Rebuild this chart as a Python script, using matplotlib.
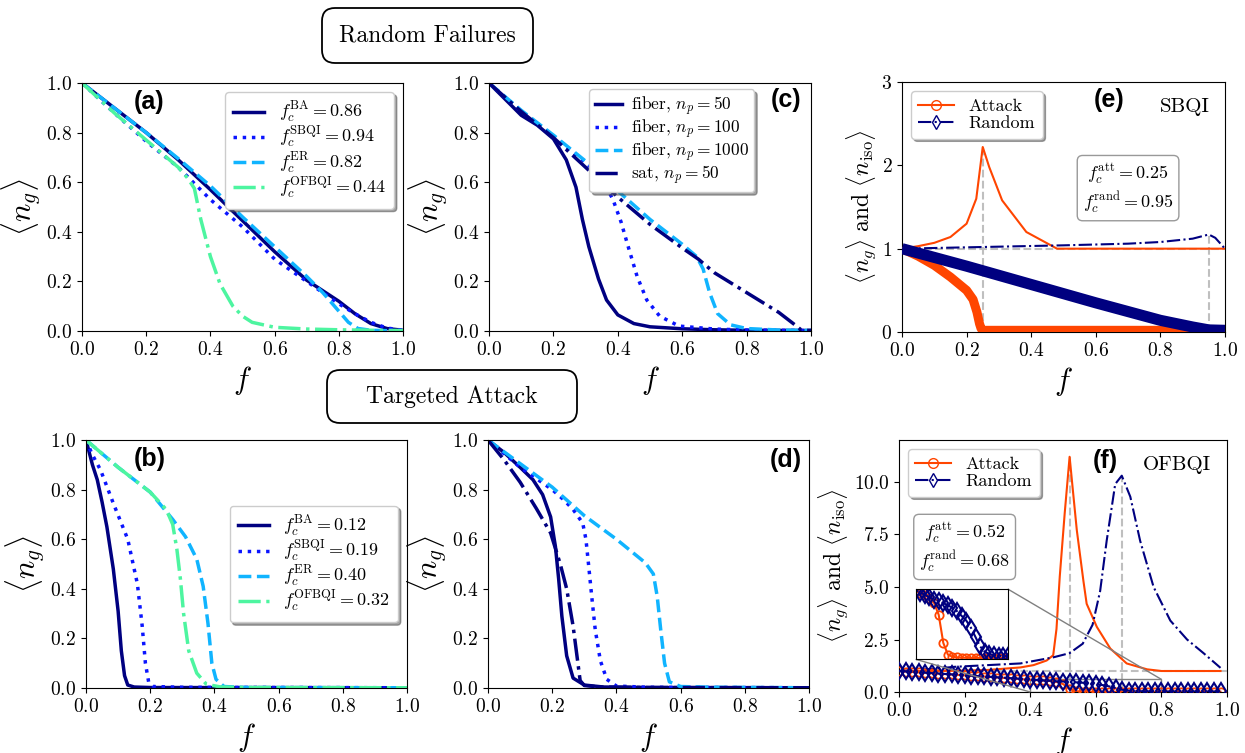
"""
Percolation-style robustness panels: random failures (top) and targeted attack (bottom).
"""

import numpy as np
import matplotlib
matplotlib.use("Agg")
import matplotlib.pyplot as plt
from matplotlib.lines import Line2D
from matplotlib.patches import FancyBboxPatch
from matplotlib.ticker import FuncFormatter
from mpl_toolkits.axes_grid1.inset_locator import mark_inset

plt.rcParams['font.family'] = 'serif'
plt.rcParams['font.serif'] = ['cmr10']
plt.rcParams['mathtext.fontset'] = 'cm'
plt.rcParams['axes.unicode_minus'] = False

NAVY = '#000080'
BLUE = '#0a14ff'
SKY = '#10b4ff'
MINT = '#4df5a0'
RED = '#ff4500'

# ---------------- (a) random failures, four network models
a_f = [0, 0.1, 0.2, 0.3, 0.4, 0.5, 0.6, 0.7, 0.8, 0.85, 0.9, 0.95, 1.0]
a_ba = [1.0, 0.9, 0.8, 0.69, 0.57, 0.445, 0.32, 0.205, 0.12, 0.07, 0.03, 0.01, 0.003]
a_sbqi = [1.0, 0.88, 0.765, 0.66, 0.53, 0.42, 0.29, 0.2, 0.11, 0.07, 0.035, 0.012, 0.003]
a_f_er = [0, 0.1, 0.2, 0.3, 0.4, 0.5, 0.6, 0.7, 0.75, 0.8, 0.83, 0.86, 0.9, 1.0]
a_er = [1.0, 0.9, 0.8, 0.695, 0.585, 0.46, 0.34, 0.22, 0.155, 0.08, 0.035, 0.01, 0.003, 0.0]
a_f_of = [0, 0.1, 0.2, 0.3, 0.33, 0.35, 0.37, 0.4, 0.43, 0.47, 0.5, 0.53, 0.6, 0.7, 0.8, 0.9, 1.0]
a_of = [1.0, 0.88, 0.77, 0.66, 0.615, 0.575, 0.45, 0.3, 0.19, 0.1, 0.06, 0.035, 0.015, 0.008, 0.005, 0.003, 0.002]
a_names = ['BA', 'SBQI', 'ER', 'OFBQI']
a_fc = [0.86, 0.94, 0.82, 0.44]

# ---------------- (b) targeted attack, four network models
b_f_ba = [0, 0.02, 0.035, 0.05, 0.065, 0.085, 0.1, 0.11, 0.12, 0.13, 0.15, 0.2, 1.0]
b_ba = [1.0, 0.9, 0.84, 0.75, 0.65, 0.48, 0.31, 0.15, 0.05, 0.012, 0.004, 0.002, 0.001]
b_f_sb = [0, 0.02, 0.045, 0.085, 0.13, 0.16, 0.175, 0.185, 0.195, 0.21, 0.3, 1.0]
b_sb = [1.0, 0.94, 0.88, 0.745, 0.6, 0.42, 0.25, 0.1, 0.025, 0.006, 0.003, 0.001]
b_f_er = [0, 0.1, 0.2, 0.27, 0.31, 0.345, 0.365, 0.38, 0.392, 0.405, 0.43, 0.5, 1.0]
b_er = [1.0, 0.89, 0.79, 0.68, 0.61, 0.52, 0.41, 0.26, 0.1, 0.035, 0.006, 0.002, 0.001]
b_f_of = [0, 0.1, 0.2, 0.25, 0.27, 0.283, 0.294, 0.304, 0.32, 0.345, 0.375, 0.42, 0.5, 1.0]
b_of = [1.0, 0.89, 0.79, 0.72, 0.66, 0.56, 0.44, 0.3, 0.15, 0.06, 0.015, 0.004, 0.002, 0.001]
b_fc = [0.12, 0.19, 0.40, 0.32]

# ---------------- (c) random failures, fiber / satellite links
c_f1 = [0, 0.1, 0.15, 0.2, 0.24, 0.27, 0.29, 0.31, 0.34, 0.365, 0.4, 0.45, 0.5, 0.6, 0.7, 0.8, 1.0]
c_fib50 = [1.0, 0.87, 0.83, 0.775, 0.69, 0.58, 0.45, 0.34, 0.21, 0.125, 0.065, 0.03, 0.017, 0.009, 0.005, 0.003, 0.002]
c_f2 = [0, 0.1, 0.2, 0.3, 0.35, 0.385, 0.41, 0.43, 0.46, 0.49, 0.53, 0.59, 0.7, 0.8, 1.0]
c_fib100 = [1.0, 0.885, 0.785, 0.68, 0.615, 0.53, 0.44, 0.35, 0.22, 0.125, 0.06, 0.02, 0.008, 0.004, 0.002]
c_f3 = [0, 0.1, 0.2, 0.3, 0.35, 0.4, 0.5, 0.6, 0.645, 0.665, 0.685, 0.71, 0.75, 0.8, 0.9, 1.0]
c_fib1000 = [1.0, 0.89, 0.79, 0.685, 0.635, 0.565, 0.45, 0.35, 0.3, 0.25, 0.155, 0.07, 0.025, 0.01, 0.004, 0.002]
c_f4 = [0, 0.1, 0.2, 0.3, 0.4, 0.5, 0.6, 0.65, 0.7, 0.8, 0.9, 0.95, 0.97, 1.0]
c_sat50 = [1.0, 0.885, 0.78, 0.66, 0.54, 0.43, 0.335, 0.29, 0.235, 0.155, 0.075, 0.025, 0.004, 0.002]
c_links = ['fiber', 'fiber', 'fiber', 'sat']
c_np = [50, 100, 1000, 50]

# ---------------- (d) targeted attack, fiber / satellite links
d_f1 = [0, 0.05, 0.1, 0.14, 0.17, 0.195, 0.21, 0.22, 0.23, 0.245, 0.265, 0.3, 0.36, 0.5, 1.0]
d_fib50 = [1.0, 0.95, 0.89, 0.84, 0.78, 0.69, 0.57, 0.44, 0.29, 0.13, 0.04, 0.012, 0.004, 0.002, 0.001]
d_f2 = [0, 0.1, 0.2, 0.235, 0.265, 0.295, 0.305, 0.313, 0.323, 0.334, 0.35, 0.37, 0.4, 0.5, 1.0]
d_fib100 = [1.0, 0.89, 0.8, 0.76, 0.72, 0.665, 0.6, 0.5, 0.37, 0.235, 0.11, 0.035, 0.008, 0.003, 0.001]
d_f3 = [0, 0.1, 0.2, 0.3, 0.4, 0.49, 0.515, 0.527, 0.538, 0.55, 0.565, 0.6, 0.7, 1.0]
d_fib1000 = [1.0, 0.905, 0.81, 0.695, 0.6, 0.505, 0.46, 0.37, 0.235, 0.1, 0.025, 0.006, 0.003, 0.001]
d_f4 = [0, 0.05, 0.1, 0.15, 0.195, 0.225, 0.245, 0.265, 0.277, 0.287, 0.3, 0.35, 0.5, 1.0]
d_sat50 = [1.0, 0.92, 0.83, 0.725, 0.625, 0.5, 0.4, 0.25, 0.13, 0.03, 0.01, 0.004, 0.002, 0.001]

# ---------------- (e) SBQI: giant component and isolated clusters
e_f_att_iso = [0, 0.05, 0.1, 0.15, 0.2, 0.23, 0.25, 0.27, 0.31, 0.385, 0.48, 1.0]
e_att_iso = [1.0, 1.03, 1.07, 1.14, 1.3, 1.6, 2.22, 1.98, 1.58, 1.2, 1.0, 1.0]
e_f_rand_iso = [0, 0.25, 0.5, 0.7, 0.8, 0.9, 0.95, 0.97, 1.0]
e_rand_iso = [1.0, 1.02, 1.04, 1.06, 1.08, 1.12, 1.17, 1.13, 1.0]
e_f_att_ng = [0, 0.05, 0.1, 0.15, 0.2, 0.22, 0.232, 0.24, 0.245, 0.25, 0.26, 1.0]
e_att_ng = [1.0, 0.91, 0.8, 0.66, 0.5, 0.39, 0.24, 0.1, 0.04, 0.02, 0.02, 0.02]
e_f_rand_ng = [0, 0.2, 0.4, 0.6, 0.8, 0.9, 0.95, 1.0]
e_rand_ng = [1.0, 0.79, 0.57, 0.35, 0.14, 0.06, 0.025, 0.02]
e_fc_att = 0.25
e_fc_rand = 0.95

# ---------------- (f) OFBQI: giant component and isolated clusters
f_f_att_iso = [0, 0.1, 0.2, 0.27, 0.37, 0.41, 0.45, 0.47, 0.48, 0.49, 0.505, 0.52, 0.53,
               0.542, 0.562, 0.572, 0.603, 0.644, 0.694, 0.756, 0.8, 0.98]
f_att_iso = [1.0, 1.0, 1.02, 1.05, 1.17, 1.28, 1.5, 1.75, 3.0, 5.5, 8.5, 11.2, 9.6,
             7.7, 5.3, 4.2, 3.1, 2.07, 1.36, 1.08, 1.0, 1.0]
f_f_rand_iso = [0, 0.1, 0.17, 0.37, 0.47, 0.52, 0.56, 0.59, 0.613, 0.633, 0.659, 0.679,
                0.705, 0.735, 0.776, 0.827, 0.878, 0.929, 0.98]
f_rand_iso = [1.0, 1.1, 1.2, 1.36, 1.65, 1.85, 2.3, 3.2, 4.8, 7.2, 9.9, 10.3,
              9.3, 7.2, 5.0, 3.4, 2.5, 1.84, 1.15]
f_grid = [0.00, 0.02, 0.04, 0.06, 0.08, 0.10, 0.12, 0.14, 0.16, 0.18,
          0.20, 0.22, 0.24, 0.26, 0.28, 0.30, 0.32, 0.34, 0.36, 0.38,
          0.40, 0.42, 0.44, 0.46, 0.48, 0.50, 0.52, 0.54, 0.56, 0.58,
          0.60, 0.62, 0.64, 0.66, 0.68, 0.70, 0.72, 0.74, 0.76, 0.78,
          0.80, 0.82, 0.84, 0.86, 0.88, 0.90, 0.92, 0.94, 0.96, 0.98]
f_rand_ng = [1.00, 0.98, 0.96, 0.94, 0.92, 0.90, 0.88, 0.86, 0.84, 0.82,
             0.80, 0.78, 0.76, 0.74, 0.72, 0.70, 0.68, 0.66, 0.64, 0.61,
             0.59, 0.57, 0.55, 0.53, 0.51, 0.50, 0.48, 0.46, 0.44, 0.41,
             0.37, 0.33, 0.27, 0.19, 0.11, 0.065, 0.045, 0.035, 0.03, 0.028,
             0.027, 0.026, 0.026, 0.025, 0.025, 0.025, 0.025, 0.025, 0.025, 0.025]
f_att_ng = [1.00, 0.975, 0.955, 0.935, 0.915, 0.895, 0.875, 0.855, 0.835, 0.815,
            0.795, 0.775, 0.755, 0.735, 0.715, 0.69, 0.67, 0.65, 0.63, 0.605,
            0.585, 0.565, 0.55, 0.525, 0.48, 0.38, 0.14, 0.04, 0.022, 0.016,
            0.014, 0.013, 0.012, 0.012, 0.012, 0.012, 0.012, 0.012, 0.012, 0.012,
            0.012, 0.012, 0.012, 0.012, 0.012, 0.012, 0.012, 0.012, 0.012, 0.012]
f_fc_att = 0.52
f_fc_rand = 0.68

FMT1 = FuncFormatter(lambda v, p: r'$\mathrm{%.1f}$' % v)
FMT0 = FuncFormatter(lambda v, p: r'$\mathrm{%d}$' % v)


def fc_label(name, value):
    return r'$f_c^{\rm %s} = \mathrm{%.2f}$' % (name, value)


def style_ng_axis(ax):

    """
    description:
        Common limits, ticks and labels for the <n_g> panels.
    """

    ax.set_xlim(0, 1)
    ax.set_ylim(0, 1)
    ax.set_xticks([0, 0.2, 0.4, 0.6, 0.8, 1.0])
    ax.set_yticks([0, 0.2, 0.4, 0.6, 0.8, 1.0])
    ax.xaxis.set_major_formatter(FMT1)
    ax.yaxis.set_major_formatter(FMT1)
    ax.tick_params(labelsize=14)
    ax.set_xlabel(r'$f$', fontsize=22)
    ax.set_ylabel(r'$\langle n_g \rangle$', fontsize=22, labelpad=2)


def panel_label(ax, x, y, text):

    """
    description:
        Bold sans-serif panel tag such as (a).
    """

    ax.text(x, y, text, transform=ax.transAxes, fontsize=18, fontweight='bold',
            family='Liberation Sans', ha='center', va='center')


def four_models(ax, curves, fcs, loc, anchor):

    """
    description:
        Draw the BA / SBQI / ER / OFBQI curves with their legend.
    """

    styles = [(NAVY, '-'), (BLUE, ':'), (SKY, '--'), (MINT, '-.')]
    for (xs, ys), (col, ls), name, fc in zip(curves, styles, a_names, fcs):
        ax.plot(xs, ys, color=col, ls=ls, lw=2.5, label=fc_label(name, fc))
    ax.legend(loc=loc, bbox_to_anchor=anchor, fontsize=13, shadow=True, fancybox=True,
              handlelength=1.7, labelspacing=0.0, borderpad=0.45)
    style_ng_axis(ax)


def link_types(ax, curves):

    """
    description:
        Draw fiber / satellite curves.
    """

    styles = [(NAVY, '-'), (BLUE, ':'), (SKY, '--'), (NAVY, '-.')]
    for (xs, ys), (col, ls), link, npv in zip(curves, styles, c_links, c_np):
        ax.plot(xs, ys, color=col, ls=ls, lw=2.5,
                label=r'%s, $n_p = \mathrm{%d}$' % (link, npv))
    style_ng_axis(ax)


def iso_panel(ax, att_iso, rand_iso, att_ng, rand_ng, fc_att, fc_rand, thick):

    """
    description:
        <n_g> and <n_iso> under attack and random failure for one model.
    """

    ax.axhline(1.0, color='0.75', ls='--', lw=1.5, zorder=1)
    ax.vlines(fc_att, 0, max(att_iso[1]), color='0.75', ls='--', lw=1.5, zorder=1)
    ax.vlines(fc_rand, 0, max(rand_iso[1]), color='0.75', ls='--', lw=1.5, zorder=1)
    ax.plot(att_iso[0], att_iso[1], color=RED, lw=1.5, zorder=3)
    ax.plot(rand_iso[0], rand_iso[1], color=NAVY, ls='-.', lw=1.5, zorder=3)
    if thick:
        ax.plot(att_ng[0], att_ng[1], color=RED, lw=6.5, solid_capstyle='butt', zorder=4)
        ax.plot(rand_ng[0], rand_ng[1], color=NAVY, lw=8, solid_capstyle='butt', zorder=5)
    else:
        ax.plot(att_ng[0], att_ng[1], color=RED, lw=1.5, marker='o', ms=6,
                mfc='none', mew=1.3, zorder=4)
        ax.plot(rand_ng[0], rand_ng[1], color=NAVY, lw=1.5, ls='-.', marker='d', ms=8,
                mfc='none', mew=1.5, zorder=5)
    handles = [Line2D([], [], color=RED, lw=1.5, marker='o', ms=7, mfc='none'),
               Line2D([], [], color=NAVY, lw=1.5, ls='-.', marker='d', ms=7, mfc='none')]
    ax.legend(handles, ['Attack', 'Random'], loc='upper left', fontsize=13, shadow=True,
              fancybox=True, handlelength=2.0, labelspacing=0.1, borderpad=0.4)
    ax.set_xlim(0, 1)
    ax.set_xticks([0, 0.2, 0.4, 0.6, 0.8, 1.0])
    ax.xaxis.set_major_formatter(FMT1)
    ax.tick_params(labelsize=14)
    ax.set_xlabel(r'$f$', fontsize=22)
    ax.set_ylabel(r'$\langle n_g \rangle\ \mathrm{and}\ \langle n_{\rm iso} \rangle$',
                  fontsize=17, labelpad=2)
    text = (r'$f_c^{\rm att} = \mathrm{%.2f}$' % fc_att) + '\n' + \
        (r'$f_c^{\rm rand} = \mathrm{%.2f}$' % fc_rand)
    return text


def title_box(fig, text, x0, y0, w, h, xc, yc):

    """
    description:
        Rounded frame with a row title, sizes given in inches.
    """

    fig.patches.append(FancyBboxPatch((x0, y0), w, h, boxstyle='round,pad=0,rounding_size=0.13',
                                      transform=fig.dpi_scale_trans, fc='white', ec='black',
                                      lw=1.3))
    fig.text(xc, yc, text, ha='center', va='center', fontsize=17)


def main():

    fig = plt.figure(figsize=(12.45, 7.53), dpi=100)

    ax_a = fig.add_axes([0.0659, 0.5604, 0.2578, 0.3293])
    ax_c = fig.add_axes([0.3928, 0.5604, 0.2586, 0.3293])
    ax_e = fig.add_axes([0.7245, 0.5591, 0.2594, 0.3320])
    ax_b = fig.add_axes([0.0691, 0.0863, 0.2578, 0.3293])
    ax_d = fig.add_axes([0.3920, 0.0863, 0.2578, 0.3293])
    ax_f = fig.add_axes([0.7221, 0.0810, 0.2635, 0.3347])

    four_models(ax_a, [(a_f, a_ba), (a_f, a_sbqi), (a_f_er, a_er), (a_f_of, a_of)],
                a_fc, 'upper right', (1.0, 1.0))
    panel_label(ax_a, 0.21, 0.925, '(a)')

    four_models(ax_b, [(b_f_ba, b_ba), (b_f_sb, b_sb), (b_f_er, b_er), (b_f_of, b_of)],
                b_fc, 'center right', (1.0, 0.5))
    panel_label(ax_b, 0.20, 0.923, '(b)')

    link_types(ax_c, [(c_f1, c_fib50), (c_f2, c_fib100), (c_f3, c_fib1000), (c_f4, c_sat50)])
    ax_c.legend(loc='upper left', bbox_to_anchor=(0.285, 1.01), fontsize=12.5, shadow=True,
                fancybox=True, handlelength=1.6, labelspacing=0.0, borderpad=0.3,
                handletextpad=0.5)
    panel_label(ax_c, 0.922, 0.93, '(c)')

    link_types(ax_d, [(d_f1, d_fib50), (d_f2, d_fib100), (d_f3, d_fib1000), (d_f4, d_sat50)])
    panel_label(ax_d, 0.928, 0.92, '(d)')

    # (e) SBQI
    box_e = iso_panel(ax_e, (e_f_att_iso, e_att_iso), (e_f_rand_iso, e_rand_iso),
                      (e_f_att_ng, e_att_ng), (e_f_rand_ng, e_rand_ng),
                      e_fc_att, e_fc_rand, thick=True)
    ax_e.set_ylim(0, 3)
    ax_e.set_yticks([0, 1, 2, 3])
    ax_e.yaxis.set_major_formatter(FMT0)
    ax_e.text(0.70, 0.575, box_e, transform=ax_e.transAxes, ha='center', va='center',
              fontsize=13, bbox=dict(boxstyle='round,pad=0.3', fc='white', ec='0.6'))
    panel_label(ax_e, 0.64, 0.93, '(e)')
    ax_e.text(0.876, 0.90, 'SBQI', transform=ax_e.transAxes, ha='center', va='center',
              fontsize=15)

    # (f) OFBQI
    box_f = iso_panel(ax_f, (f_f_att_iso, f_att_iso), (f_f_rand_iso, f_rand_iso),
                      (f_grid, f_att_ng), (f_grid, f_rand_ng),
                      f_fc_att, f_fc_rand, thick=False)
    ax_f.set_ylim(0, 12)
    ax_f.set_yticks([0, 2.5, 5, 7.5, 10])
    ax_f.yaxis.set_major_formatter(FMT1)
    ax_f.text(0.20, 0.575, box_f, transform=ax_f.transAxes, ha='center', va='center',
              fontsize=13, bbox=dict(boxstyle='round,pad=0.3', fc='white', ec='0.6'))
    panel_label(ax_f, 0.628, 0.917, '(f)')
    ax_f.text(0.847, 0.90, 'OFBQI', transform=ax_f.transAxes, ha='center', va='center',
              fontsize=15)

    axins = fig.add_axes([0.7355, 0.1244, 0.0739, 0.0934])
    axins.plot(f_grid, f_att_ng, color=RED, lw=1.5, marker='o', ms=6, mfc='none', mew=1.3)
    axins.plot(f_grid, f_rand_ng, color=NAVY, lw=1.5, ls='-.', marker='d', ms=8,
               mfc='none', mew=1.5)
    axins.set_xlim(0.4, 0.8)
    axins.set_ylim(0, 0.6)
    axins.set_xticks([])
    axins.set_yticks([])
    mark_inset(ax_f, axins, loc1=1, loc2=3, fc='none', ec='0.5', lw=1)

    title_box(fig, 'Random Failures', 3.22, 6.90, 2.11, 0.55, 0.3434, 0.9529)
    title_box(fig, 'Targeted Attack', 3.27, 3.30, 2.50, 0.53, 0.3631, 0.4734)

    fig.savefig('out.png', dpi=100)


if __name__ == "__main__":
    main()
